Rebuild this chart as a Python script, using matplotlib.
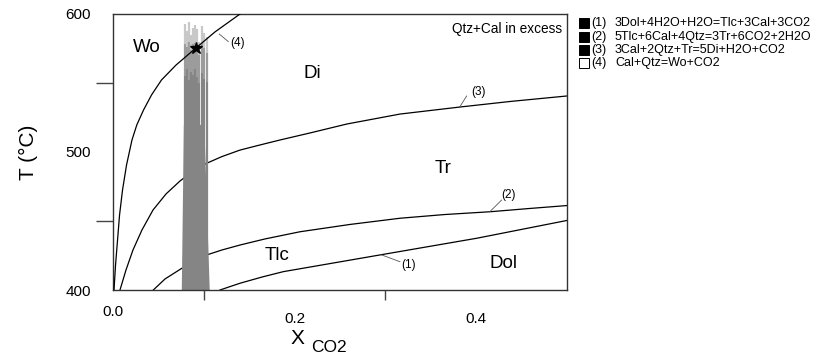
import matplotlib
matplotlib.use("Agg")
import matplotlib.pyplot as plt
from matplotlib.lines import Line2D
from matplotlib.transforms import ScaledTranslation

plt.rcParams['font.family'] = ['Liberation Sans', 'DejaVu Sans']

# ---------------- data ----------------
# reaction curves (X_CO2, T in degC)
curve1_x = [0.1178, 0.1399, 0.1641, 0.1876, 0.2940, 0.4006, 0.5000]
curve1_T = [400.0, 404.9, 409.4, 413.3, 425.4, 437.5, 450.4]

curve2_x = [0.0444, 0.0573, 0.0757, 0.1032, 0.1200, 0.1399, 0.1674, 0.2059,
            0.2610, 0.3161, 0.3656, 0.4152, 0.4593, 0.5000]
curve2_T = [400.0, 408.0, 415.7, 425.4, 429.0, 432.6, 437.0, 442.2,
            447.5, 452.0, 454.7, 456.7, 459.1, 461.2]

curve3_x = [0.0077, 0.0143, 0.0220, 0.0319, 0.0441, 0.0584, 0.0738, 0.0870, 0.1013,
            0.1200, 0.1399, 0.1619, 0.1839, 0.2170, 0.2577, 0.3161, 0.3822, 0.4372, 0.5000]
curve3_T = [400.0, 414.5, 429.0, 443.5, 458.0, 469.6, 479.0, 485.5, 491.3,
            496.7, 501.4, 505.1, 508.7, 513.8, 520.3, 527.5, 532.6, 536.6, 540.6]

curve4_x = [0.0011, 0.0028, 0.0050, 0.0072, 0.0105, 0.0149, 0.0209, 0.0262, 0.0336,
            0.0424, 0.0534, 0.0694, 0.0914, 0.1123, 0.1399, 0.1480]
curve4_T = [400.0, 418.1, 436.2, 454.3, 472.5, 490.6, 508.7, 519.6, 530.4,
            541.3, 552.2, 563.0, 575.4, 587.0, 600.0, 603.5]

star_x = [0.0914]
star_T = [575.4]

# ensemble band: dense lower part (edges) and individual streaks
band_T = [400.0, 520.0]
band_left = [0.0752, 0.0775]
band_right = [0.1060, 0.1000]

streak_x = [0.0790, 0.0812, 0.0832, 0.0862, 0.0885, 0.0905, 0.0925, 0.0952, 0.0978, 0.1000, 0.1030]
streak_T_top = [593.0, 588.0, 594.0, 585.0, 590.0, 592.0, 589.0, 580.0, 591.0, 586.0, 583.0]
streak_T_mid = [555.0, 560.0, 552.0, 558.0, 556.0, 560.0, 554.0, 550.0, 557.0, 553.0, 551.0]
streak_T_fade = [578.0, 576.0, 580.0, 574.0, 578.0, 579.0, 577.0, 570.0, 579.0, 575.0, 572.0]

region_labels = ["Wo", "Di", "Tr", "Tlc", "Dol"]
region_x = [0.037, 0.219, 0.363, 0.181, 0.430]
region_T = [576.0, 557.0, 488.0, 425.0, 419.0]

curve_tags = ["(1)", "(2)", "(3)", "(4)"]
tag_from_x = [0.296, 0.415, 0.382, 0.117]
tag_from_T = [425.4, 456.7, 532.8, 585.5]
tag_to_x = [0.316, 0.428, 0.3895, 0.127]
tag_to_T = [420.5, 465.2, 540.6, 580.0]
tag_txt_x = [0.318, 0.428, 0.394, 0.129]
tag_txt_T = [418.1, 468.8, 543.7, 578.8]

legend_fill = [True, True, True, False]
legend_tags = ["(1)", "(2)", "(3)", "(4)"]
legend_eq = ["3Dol+4H2O+H2O=Tlc+3Cal+3CO2",
             "5Tlc+6Cal+4Qtz=3Tr+6CO2+2H2O",
             "3Cal+2Qtz+Tr=5Di+H2O+CO2",
             "Cal+Qtz=Wo+CO2"]

x_major = [0.0, 0.2, 0.4]
x_major_labels = ["0.0", "0.2", "0.4"]
x_minor = [0.1, 0.2, 0.3, 0.4]
y_major = [400, 500, 600]
y_major_labels = ["400", "500", "600"]
y_minor = [450, 500, 550]

# ---------------- figure ----------------
W, H = 818, 358
fig = plt.figure(figsize=(W / 100, H / 100), dpi=100)
ax = fig.add_axes([113 / W, 1 - 290 / H, (567 - 113) / W, (290 - 14) / H])
ax.set_xlim(0, 0.5)
ax.set_ylim(400, 600)

lw = 0.9
ax.plot(curve1_x, curve1_T, color='black', lw=lw, zorder=1)
ax.plot(curve2_x, curve2_T, color='black', lw=lw, zorder=1)
ax.plot(curve3_x, curve3_T, color='black', lw=lw, zorder=1)

# band
ax.fill_betweenx(band_T, band_left, band_right, color='#858585', lw=0, zorder=2)
for xs, tm, tf, tt in zip(streak_x, streak_T_mid, streak_T_fade, streak_T_top):
    ax.plot([xs, xs], [400, tm], color='#858585', lw=1.6, zorder=2, solid_capstyle='butt')
    ax.plot([xs, xs], [tm, tf], color='#9c9c9c', lw=1.6, zorder=2, solid_capstyle='butt')
    ax.plot([xs, xs], [tf, tt], color='#c8c8c8', lw=1.6, zorder=2, solid_capstyle='butt')

ax.plot(curve4_x, curve4_T, color='black', lw=lw, zorder=3)
ax.plot(star_x, star_T, marker='*', color='black', ms=9, ls='none', zorder=4)

for lab, xx, tt in zip(region_labels, region_x, region_T):
    ax.text(xx, tt, lab, fontsize=13.5, ha='center', va='center', zorder=5)

for tag, fx, fT, tx, tT, lx, lT in zip(curve_tags, tag_from_x, tag_from_T, tag_to_x,
                                         tag_to_T, tag_txt_x, tag_txt_T):
    ax.plot([fx, tx], [fT, tT], color='#555555', lw=0.6, zorder=5)
    ax.text(lx, lT, tag, fontsize=8.5, ha='left', va='center', zorder=5)

ax.text(0.99, 0.945, "Qtz+Cal in excess", transform=ax.transAxes, fontsize=9.8,
        ha='right', va='center')

# spines
for s in ax.spines.values():
    s.set_color('#333333')
    s.set_linewidth(1.0)

# ticks
ax.set_xticks(x_major)
ax.set_xticklabels(x_major_labels)
ax.set_xticks(x_minor, minor=True)
ax.set_yticks(y_major)
ax.set_yticklabels(y_major_labels)
ax.set_yticks(y_minor, minor=True)
ax.tick_params(axis='both', which='major', length=0, labelsize=11)
ax.tick_params(axis='x', which='major', pad=16)
ax.tick_params(axis='y', which='major', pad=16)
ax.tick_params(axis='x', which='minor', length=7.5, width=1, color='#444444', direction='out')
ax.tick_params(axis='y', which='minor', length=12, width=1, color='#444444', direction='out')
ax.xaxis.set_minor_formatter(plt.NullFormatter())
ax.yaxis.set_minor_formatter(plt.NullFormatter())

# first x tick label sits a bit higher in the reference
lbl0 = ax.get_xticklabels()[0]
lbl0.set_transform(lbl0.get_transform() + ScaledTranslation(0, 5 / 72, fig.dpi_scale_trans))

# axis labels
fig.text(28 / W, 1 - 152 / H, "T (°C)", rotation=90, fontsize=15, ha='center', va='center')
fig.text(297 / W, 1 - 338 / H, "X", fontsize=15, ha='center', va='center')
fig.text(311 / W, 1 - 348 / H, "CO2", fontsize=12.5, ha='left', va='center')

# legend on the right
row_y = [22.7, 36.7, 50.0, 63.3]
for filled, tag, eq, ry in zip(legend_fill, legend_tags, legend_eq, row_y):
    yy = 1 - ry / H
    fig.add_artist(Line2D([583.5 / W], [yy], marker='s', ms=6.5,
                          markerfacecolor='black' if filled else 'white',
                          markeredgecolor='black', markeredgewidth=0.7,
                          ls='none', transform=fig.transFigure))
    fig.text(591 / W, yy, tag, fontsize=9, ha='left', va='center')
    fig.text(615 / W, yy, eq, fontsize=9, ha='left', va='center')

fig.savefig("out.png", dpi=100)
